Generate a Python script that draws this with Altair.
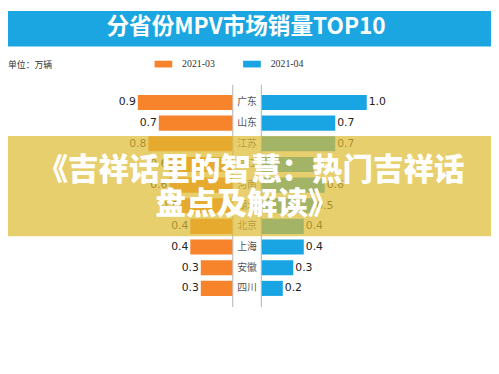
import altair as alt
import pandas as pd

provinces = ["广东", "山东", "江苏", "浙江", "河南", "湖北", "北京", "上海", "安徽", "四川"]
mar_vals = [0.9, 0.7, 0.8, 0.6, 0.6, 0.5, 0.4, 0.4, 0.3, 0.3]
apr_vals = [1.0, 0.7, 0.7, 0.5, 0.6, 0.5, 0.4, 0.4, 0.3, 0.2]
series = ["2021-03", "2021-04"]
title_text = "分省份MPV市场销量TOP10"
unit_text = "单位：万辆"
banner_lines = ["《吉祥话里的智慧：热门吉祥话", "盘点及解读》"]

ORANGE = "#f7842b"
BLUE = "#19a5e4"
HEAD_BLUE = "#1ba6e1"
CJK = "Noto Sans CJK SC"

df = pd.DataFrame({
    "province": provinces,
    "mar": mar_vals,
    "apr": apr_vals,
    "s1": [series[0]] * len(provinces),
    "s2": [series[1]] * len(provinces),
})
df["mar_lbl"] = df["mar"].map(lambda v: f"{v:.1f}")
df["apr_lbl"] = df["apr"].map(lambda v: f"{v:.1f}")

yscale = alt.Scale(domain=provinces, range=[82.5, 292.5], paddingInner=0.27, paddingOuter=0.135)
lscale = alt.Scale(domain=[0, 1], range=[228, 121.3], zero=True)
rscale = alt.Scale(domain=[0, 1], range=[258, 364.7], zero=True)
cscale = alt.Scale(domain=series, range=[ORANGE, BLUE])

legend = alt.Legend(
    title=None, orient="none", legendX=149, legendY=45, direction="horizontal",
    symbolType="M-1,-0.38H1V0.38H-1Z", symbolSize=324, symbolStrokeWidth=0,
    symbolOpacity=1, labelFont="Liberation Serif", labelFontSize=10, labelColor="#333333",
    labelOffset=10, columnPadding=28,
)

base = alt.Chart(df)
Y = alt.Y("province:N", sort=provinces, scale=yscale, axis=None)

left_bars = base.mark_bar().encode(
    y=Y,
    x=alt.X("mar:Q", scale=lscale, axis=None),
    color=alt.Color("s1:N", scale=cscale, legend=legend),
)
right_bars = base.mark_bar().encode(
    y=Y,
    x=alt.X("apr:Q", scale=rscale, axis=None),
    color=alt.Color("s2:N", scale=cscale, legend=legend),
)
left_lbl = base.mark_text(align="right", dx=-2, font="DejaVu Sans", fontSize=11, color="#222222").encode(
    y=Y, x=alt.X("mar:Q", scale=lscale, axis=None), text="mar_lbl:N"
)
right_lbl = base.mark_text(align="left", dx=2, font="DejaVu Sans", fontSize=11, color="#222222").encode(
    y=Y, x=alt.X("apr:Q", scale=rscale, axis=None), text="apr_lbl:N"
)
prov_lbl = base.mark_text(align="center", font=CJK, fontSize=10, color="#555555").encode(
    y=Y, x=alt.value(243), text="province:N"
)

rule_df = pd.DataFrame({"k": [0]})
rule_l = alt.Chart(rule_df).mark_rule(color="#b0b0b0", strokeWidth=1).encode(
    x=alt.value(228.5), y=alt.value(75), y2=alt.value(301)
)
rule_r = alt.Chart(rule_df).mark_rule(color="#b0b0b0", strokeWidth=1).encode(
    x=alt.value(257.5), y=alt.value(75), y2=alt.value(301)
)

head = alt.Chart(rule_df).mark_rect(color=HEAD_BLUE).encode(
    x=alt.value(0), x2=alt.value(491), y=alt.value(0), y2=alt.value(36)
)
head_txt = alt.Chart(pd.DataFrame({"t": [title_text]})).mark_text(
    font=CJK, fontSize=23, fontWeight="bold", color="white", align="center", baseline="middle"
).encode(x=alt.value(242), y=alt.value(16), text="t:N")
unit = alt.Chart(pd.DataFrame({"t": [unit_text]})).mark_text(
    font=CJK, fontSize=9, color="#333333", align="left", baseline="middle"
).encode(x=alt.value(0), y=alt.value(55), text="t:N")

banner = alt.Chart(rule_df).mark_rect(color="#deba30", opacity=0.7).encode(
    x=alt.value(0), x2=alt.value(491), y=alt.value(127), y2=alt.value(229)
)
banner_txt1 = alt.Chart(pd.DataFrame({"t": [banner_lines[0]]})).mark_text(
    font=CJK, fontSize=31, fontWeight=900, color="white", align="center", baseline="middle"
).encode(x=alt.value(247), y=alt.value(163), text="t:N")
banner_txt2 = alt.Chart(pd.DataFrame({"t": [banner_lines[1]]})).mark_text(
    font=CJK, fontSize=31, fontWeight=900, color="white", align="center", baseline="middle"
).encode(x=alt.value(243), y=alt.value(197), text="t:N")

chart = alt.layer(
    head, head_txt, unit, rule_l, rule_r,
    left_bars, right_bars, left_lbl, right_lbl, prov_lbl,
    banner, banner_txt1, banner_txt2,
).resolve_scale(x="independent").properties(
    width=491, height=366, autosize=alt.AutoSizeParams(type="none"), padding=0,
    background="white",
).configure_view(stroke=None)

chart.save("out.html", embed_options={"renderer": "svg", "actions": False})
